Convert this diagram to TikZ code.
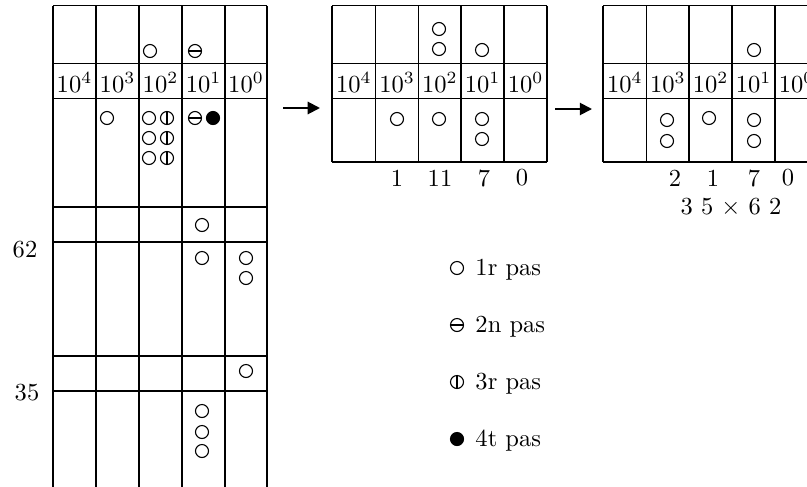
\documentclass[tikz,border=0pt]{standalone}
\usetikzlibrary{arrows.meta}
\begin{document}
\begin{tikzpicture}[x=0.408pt,y=-0.408pt,
  gridline/.style={line width=0.65pt},
  bead/.style={circle,draw,line width=0.45pt,minimum size=5.3pt,inner sep=0pt},
  beadA/.style={bead},
  beadB/.style={bead,path picture={\draw[line width=0.45pt] (path picture bounding box.west) -- (path picture bounding box.east);}},
  beadC/.style={bead,path picture={\draw[line width=0.45pt] (path picture bounding box.north) -- (path picture bounding box.south);}},
  beadD/.style={bead,fill=black},
  lab/.style={inner sep=0pt},
  flow/.style={line width=0.8pt,-{Triangle[length=5pt,width=5pt]}}]
\path[use as bounding box,clip] (0,0) rectangle (807,486);

% left grid
\foreach \x in {53,96,139,182,225,267} \draw[gridline] (\x,5.5) -- (\x,500);
\foreach \y in {5.5,63.5,98.5,207,242,356,391} \draw[gridline] (53,\y) -- (267,\y);
% middle grid
\foreach \x in {332,375.5,418.5,461,504,547} \draw[gridline] (\x,5.5) -- (\x,162);
\foreach \y in {5.5,63.5,98.5,162} \draw[gridline] (332,\y) -- (547,\y);
% right grid
\foreach \x in {603,646.5,689,732,775,818} \draw[gridline] (\x,5.5) -- (\x,162);
\foreach \y in {5.5,63.5,98.5,162} \draw[gridline] (603,\y) -- (818,\y);

% header labels
\foreach \g/\a/\b/\c/\d/\e in {L/74.5/117.5/160.5/203.5/246, M/353.75/397/439.75/482.5/525.5, R/624.75/667.75/710.5/753.5/796.5}{
  \node[lab,anchor=base] (\g h4) at (\a,92.5) {$10^4$};
  \node[lab,anchor=base] (\g h3) at (\b,92.5) {$10^3$};
  \node[lab,anchor=base] (\g h2) at (\c,92.5) {$10^2$};
  \node[lab,anchor=base] (\g h1) at (\d,92.5) {$10^1$};
  \node[lab,anchor=base] (\g h0) at (\e,92.5) {$10^0$};
}

% left grid beads
\node[beadA] (LA1) at (150,51) {};
\node[beadB] (LB1) at (195,51) {};
\node[beadA] (LA2) at (107,118) {};
\node[beadA] (LA3) at (149,118) {};
\node[beadC] (LC1) at (167,118) {};
\node[beadA] (LA4) at (149,138) {};
\node[beadC] (LC2) at (167,138) {};
\node[beadA] (LA5) at (149,158) {};
\node[beadC] (LC3) at (167,158) {};
\node[beadB] (LB2) at (195,118) {};
\node[beadD] (LD1) at (213,118) {};
\node[beadA] (LA6) at (202,225) {};
\node[beadA] (LA7) at (202,258) {};
\node[beadA] (LA8) at (246,258) {};
\node[beadA] (LA9) at (246,278) {};
\node[beadA] (LA10) at (246,371) {};
\node[beadA] (LA11) at (202,411) {};
\node[beadA] (LA12) at (202,432) {};
\node[beadA] (LA13) at (202,451) {};

\node[lab] (n62) at (25,250) {62};
\node[lab] (n35) at (27,393) {35};

% middle grid beads
\node[beadA] (MA1) at (439,29) {};
\node[beadA] (MA2) at (439,49) {};
\node[beadA] (MA3) at (482,50) {};
\node[beadA] (MA4) at (397,119) {};
\node[beadA] (MA5) at (439,119) {};
\node[beadA] (MA6) at (482,119) {};
\node[beadA] (MA7) at (482,139) {};
\node[lab] (m1) at (397,178) {1};
\node[lab] (m2) at (440,178) {11};
\node[lab] (m3) at (484,178) {7};
\node[lab] (m4) at (522,178) {0};

% right grid beads
\node[beadA] (RA1) at (754,50) {};
\node[beadA] (RA2) at (667,120) {};
\node[beadA] (RA3) at (667,141) {};
\node[beadA] (RA4) at (709,118) {};
\node[beadA] (RA5) at (754,120) {};
\node[beadA] (RA6) at (754,141) {};
\node[lab] (r1) at (675,178) {2};
\node[lab] (r2) at (713,178) {1};
\node[lab] (r3) at (754,178) {7};
\node[lab] (r4) at (788,178) {0};
\node[lab] (prod) at (731,207) {3 5 $\times$ 6 2};

% arrows
\coordinate (a1s) at (283,108);
\coordinate (a1e) at (320,108);
\coordinate (a2s) at (555,109);
\coordinate (a2e) at (592,109);
\draw[flow] (a1s) -- (a1e);
\draw[flow] (a2s) -- (a2e);

% legend
\node[beadA] (KA) at (457,268) {};
\node[beadB] (KB) at (457,325) {};
\node[beadC] (KC) at (457,382) {};
\node[beadD] (KD) at (457,439) {};
\node[lab,anchor=base west] (tA) at (475,275) {1r pas};
\node[lab,anchor=base west] (tB) at (475,332) {2n pas};
\node[lab,anchor=base west] (tC) at (475,389) {3r pas};
\node[lab,anchor=base west] (tD) at (475,446) {4t pas};
\end{tikzpicture}
\end{document}
